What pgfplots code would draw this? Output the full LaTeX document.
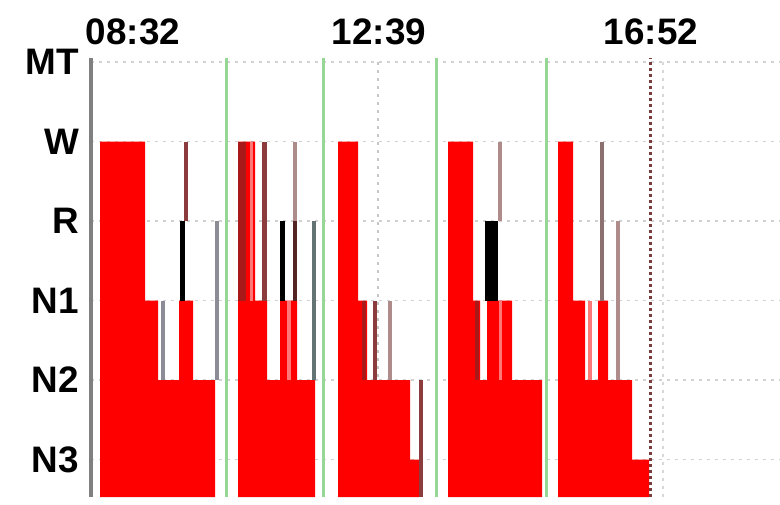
\documentclass[border=0pt]{standalone}
\usepackage{pgfplots}
\pgfplotsset{compat=1.18}
\usepackage{fontspec}
\setmainfont{Liberation Sans}
\definecolor{hred}{RGB}{255,0,0}
\definecolor{brownl}{RGB}{140,60,60}
\definecolor{darkr}{RGB}{170,25,25}
\definecolor{pinkl}{RGB}{255,120,120}
\definecolor{pgray}{RGB}{175,140,140}
\definecolor{grayl}{RGB}{140,140,150}
\definecolor{tealg}{RGB}{100,115,115}
\definecolor{sepg}{RGB}{150,215,150}
\definecolor{dotr}{RGB}{120,60,60}
\begin{document}
\begin{tikzpicture}
\path[use as bounding box] (0,0) rectangle (780bp,505bp);
\begin{axis}[
  at={(91bp,8bp)}, anchor=south west,
  scale only axis, width=689bp, height=439bp,
  xmin=91, xmax=780, ymin=-0.47, ymax=5.05,
  clip=false,
  axis line style={draw=none},
  xtick={133,379,651}, xticklabels={08:32,12:39,16:52},
  xticklabel pos=upper,
  ytick={0,1,2,3,4,5}, yticklabels={N3,N2,N1,R,W,MT},
  major tick length=0pt, tick style={draw=none},
  ymajorgrids,
  major grid style={gray!35, dash pattern=on 3bp off 5bp, line width=1.2bp},
  ticklabel style={font=\fontsize{37}{40}\selectfont\bfseries, inner sep=0pt},
  xticklabel style={anchor=south, yshift=13bp},
  yticklabel style={anchor=east, xshift=-12bp},
]
% vertical reference lines
\addplot[gray!45, dash pattern=on 3bp off 5bp, line width=1.2bp] coordinates {(378,-0.47) (378,5.05)};
\addplot[gray!30, dash pattern=on 3bp off 5bp, line width=1.2bp] coordinates {(663,-0.47) (663,5.05)};
\addplot[dotr, dash pattern=on 3bp off 3bp, line width=3bp] coordinates {(650,-0.47) (650,5.05)};
% left axis line
\addplot[gray, line width=3bp] coordinates {(91,-0.47) (91,5.05)};
% separators
\addplot[sepg, line width=3bp] coordinates {(226,-0.47) (226,5.05)};
\addplot[sepg, line width=3bp] coordinates {(323,-0.47) (323,5.05)};
\addplot[sepg, line width=3bp] coordinates {(436,-0.47) (436,5.05)};
\addplot[sepg, line width=3bp] coordinates {(546,-0.47) (546,5.05)};
% block 1
\addplot[const plot, fill=hred, draw=none] coordinates {(100,-0.47) (100,4) (145,2) (158,1) (179,2) (193,1) (215,1) (215,-0.47)};
\addplot[grayl, line width=4bp] coordinates {(163,1) (163,2)};
\addplot[black, line width=5bp] coordinates {(182,2) (182,3)};
\addplot[brownl, line width=4.5bp] coordinates {(186,3) (186,4)};
\addplot[grayl, line width=4bp] coordinates {(217,1) (217,3)};
% block 2
\addplot[const plot, fill=hred, draw=none] coordinates {(238,-0.47) (238,4) (255,2) (267,1) (280,2) (297,1) (315,1) (315,-0.47)};
\addplot[darkr, line width=8bp] coordinates {(242,2) (242,4)};
\addplot[pinkl, line width=3bp] coordinates {(251,2) (251,4)};
\addplot[brownl, line width=5bp] coordinates {(264,2) (264,4)};
\addplot[pinkl, line width=4bp] coordinates {(289,1) (289,2)};
\addplot[black, line width=5bp] coordinates {(282,2) (282,3)};
\addplot[pgray, line width=4bp] coordinates {(295,3) (295,4)};
\addplot[brownl!60!black, line width=4bp] coordinates {(295,2) (295,3)};
\addplot[tealg, line width=4bp] coordinates {(314,1) (314,3)};
% block 3
\addplot[const plot, fill=hred, draw=none] coordinates {(338,-0.47) (338,4) (358,2) (367,1) (410,0) (419,0) (419,-0.47)};
\addplot[darkr, line width=4bp] coordinates {(364,1) (364,2)};
\addplot[brownl, line width=4bp] coordinates {(375,1) (375,2)};
\addplot[pgray, line width=4bp] coordinates {(390,1) (390,2)};
\addplot[brownl, line width=4bp] coordinates {(421,-0.47) (421,1)};
% block 4
\addplot[const plot, fill=hred, draw=none] coordinates {(448,-0.47) (448,4) (473,2) (480,1) (487,2) (512,1) (542,1) (542,-0.47)};
\addplot[darkr, line width=4bp] coordinates {(477,1) (477,2)};
\addplot[pinkl, line width=3bp] coordinates {(500,1) (500,2)};
\addplot[black, line width=13bp] coordinates {(491.5,2) (491.5,3)};
\addplot[pgray, line width=4bp] coordinates {(500,3) (500,4)};
% block 5
\addplot[const plot, fill=hred, draw=none] coordinates {(558,-0.47) (558,4) (573,2) (585,1) (598,2) (608,1) (632,0) (649,0) (649,-0.47)};
\addplot[pinkl, line width=4bp] coordinates {(590,1) (590,2)};
\addplot[pgray!80!black, line width=4bp] coordinates {(602,2) (602,4)};
\addplot[pgray, line width=4bp] coordinates {(618,1) (618,3)};
\end{axis}
\end{tikzpicture}
\end{document}
